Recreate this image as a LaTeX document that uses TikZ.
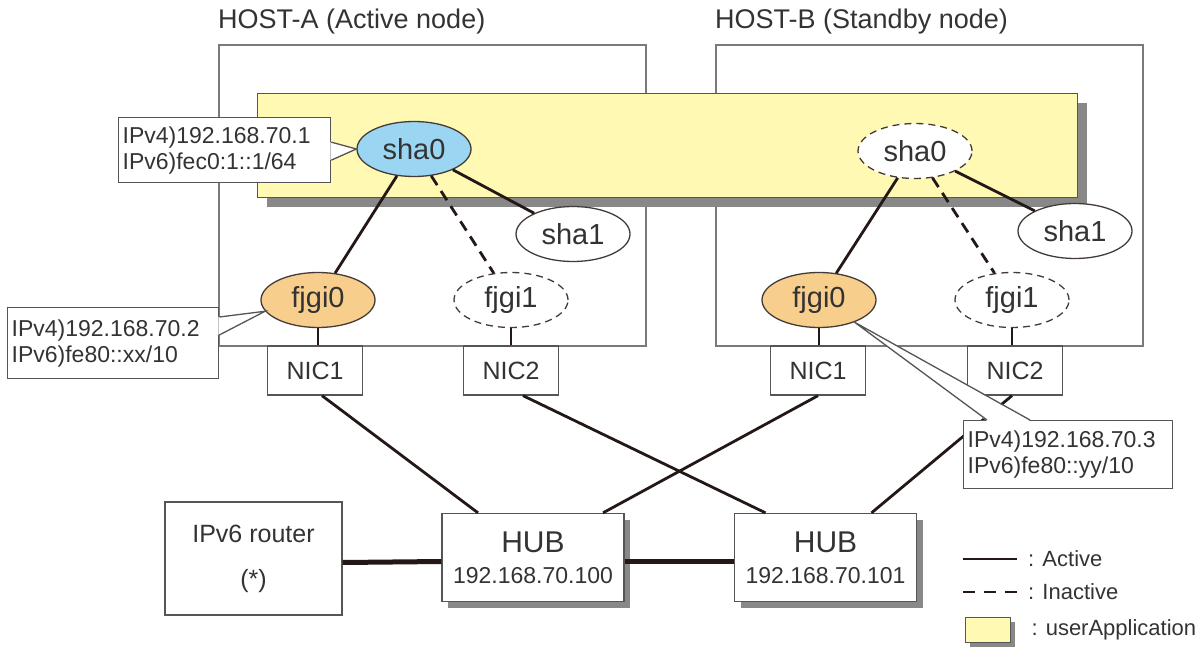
\documentclass[tikz,border=0pt]{standalone}
\usepackage{fontspec}
\setmainfont{Liberation Sans}
\usetikzlibrary{shapes.geometric, shadows}
\definecolor{lineblk}{HTML}{231815}
\definecolor{boxgray}{HTML}{7A7A7A}
\definecolor{edgegray}{HTML}{555555}
\definecolor{shadowgray}{HTML}{888888}
\definecolor{appyellow}{HTML}{FFF9B3}
\definecolor{activeblue}{HTML}{9AD6F2}
\definecolor{ifaceorange}{HTML}{F7CE8C}
\definecolor{textdark}{HTML}{333333}
\tikzset{
  hostbox/.style={draw=boxgray, line width=2pt, anchor=north west, inner sep=0pt,
              minimum width=427pt, minimum height=301pt},
  hostlabel/.style={anchor=base west, inner sep=0pt, text=textdark,
              font=\fontsize{27}{30}\selectfont},
  appbox/.style={draw=edgegray, fill=appyellow, line width=1.3pt, anchor=north west,
              inner sep=0pt, drop shadow={shadow xshift=#1, shadow yshift=-#1,
              fill=shadowgray, opacity=1}},
  ifnode/.style={ellipse, draw=lineblk!85, fill=#1, line width=1.3pt,
              minimum width=114pt, minimum height=55pt, inner sep=0pt,
              text=textdark, font=\fontsize{29}{32}\selectfont},
  ifidle/.style={ifnode=white, dash pattern=on 7pt off 5pt},
  nicbox/.style={draw=edgegray, fill=white, line width=1.3pt, inner sep=0pt,
              minimum width=95pt, minimum height=49pt,
              text=textdark, font=\fontsize{25}{28}\selectfont},
  hubbox/.style={draw=edgegray, fill=white, line width=1.3pt, inner sep=0pt,
              minimum width=182pt, minimum height=88pt, align=center,
              text=textdark, font=\fontsize{23}{31}\selectfont,
              drop shadow={shadow xshift=6pt, shadow yshift=-6pt,
              fill=shadowgray, opacity=1}},
  routerbox/.style={draw=edgegray, fill=white, line width=1.3pt, inner sep=0pt,
              minimum width=177pt, minimum height=113pt, align=center,
              text=textdark, font=\fontsize{25}{45}\selectfont},
  callout/.style={draw=edgegray, fill=white, line width=1.3pt, anchor=north west,
              inner xsep=4pt, inner ysep=0pt, align=left,
              text=textdark, font=\fontsize{23}{26}\selectfont},
  pointer/.style={draw=edgegray, line width=1.3pt, line join=miter},
  actline/.style={draw=lineblk, line width=2.8pt},
  idleline/.style={draw=lineblk, line width=2.8pt, dash pattern=on 11pt off 7pt},
  trunkline/.style={draw=lineblk, line width=5pt},
  legtext/.style={anchor=west, inner sep=0pt, text=textdark,
              font=\fontsize{22}{24}\selectfont},
}
\begin{document}
\begin{tikzpicture}[x=1pt, y=-1pt]
  \useasboundingbox (0,0) rectangle (1201,647);

  \node[hostbox] (hosta) at (218,44) {};
  \node[hostbox] (hostb) at (715,44) {};
  \node[hostlabel] at ([yshift=15pt]hosta.north west) {HOST-A (Active node)};
  \node[hostlabel] at ([yshift=15pt]hostb.north west) {HOST-B (Standby node)};

  \node[appbox=9pt, minimum width=820pt, minimum height=104pt] (app) at (257,93) {};

  \node[ifnode=activeblue] (sha0a)  at (414,149) {sha0};
  \node[ifnode=white]      (sha1a)  at (573,234) {sha1};
  \node[ifnode=ifaceorange] (fjgi0a) at (318,300) {fjgi0};
  \node[ifidle]            (fjgi1a) at (511,300) {fjgi1};
  \node[ifidle]            (sha0b)  at (915,151) {sha0};
  \node[ifnode=white]      (sha1b)  at (1075,231) {sha1};
  \node[ifnode=ifaceorange] (fjgi0b) at (819,300) {fjgi0};
  \node[ifidle]            (fjgi1b) at (1012,300) {fjgi1};

  \node[nicbox] (nic1a) at (315,370.5)  {NIC1};
  \node[nicbox] (nic2a) at (511,370.5)  {NIC2};
  \node[nicbox] (nic1b) at (818,370.5)  {NIC1};
  \node[nicbox] (nic2b) at (1015,370.5) {NIC2};

  \node[routerbox] (router) at (253.5,558.5) {IPv6 router\\(*)};
  \node[hubbox] (hub1) at (533,557.5)   {{\fontsize{30}{31}\selectfont HUB}\\192.168.70.100};
  \node[hubbox] (hub2) at (825.5,557.5) {{\fontsize{30}{31}\selectfont HUB}\\192.168.70.101};

  \draw[actline]  (sha0a) -- (fjgi0a);
  \draw[idleline] (sha0a) -- (fjgi1a);
  \draw[actline]  (sha0a) -- (sha1a);
  \draw[actline]  (sha0b) -- (fjgi0b);
  \draw[idleline] (sha0b) -- (fjgi1b);
  \draw[actline]  (sha0b) -- (sha1b);
  \draw[actline] (fjgi0a.south) -- (fjgi0a.south |- nic1a.north);
  \draw[actline] (fjgi1a.south) -- (fjgi1a.south |- nic2a.north);
  \draw[actline] (fjgi0b.south) -- (fjgi0b.south |- nic1b.north);
  \draw[actline] (fjgi1b.south) -- (fjgi1b.south |- nic2b.north);

  \draw[actline] ([xshift=7pt]nic1a.south)  -- ([xshift=-55pt]hub1.north);
  \draw[actline] ([xshift=12pt]nic2a.south) -- ([xshift=-60pt]hub2.north);
  \draw[actline] (nic1b.south)              -- ([xshift=70pt]hub1.north);
  \draw[actline] ([xshift=-3pt]nic2b.south) -- ([xshift=46pt]hub2.north);
  \draw[trunkline] ([yshift=-4pt]router.east) -- ([yshift=-4pt]hub1.west);
  \draw[trunkline] ([yshift=-4pt]hub1.east) -- ([yshift=-4pt]hub2.west);

  \node[callout, minimum height=65pt, text width=204pt] (ipsha) at (118,117)
    {IPv4)192.168.70.1\\IPv6)fec0:1::1/64};
  \fill[white] ([xshift=-1pt, yshift=8pt]ipsha.east) -- (sha0a.west)
    -- ([xshift=-1pt, yshift=-10pt]ipsha.east) -- cycle;
  \draw[pointer] ([yshift=8pt]ipsha.east) -- (sha0a.west) -- ([yshift=-10pt]ipsha.east);

  \node[callout, minimum height=71pt, text width=203pt] (ipfjgia) at (7,307)
    {IPv4)192.168.70.2\\IPv6)fe80::xx/10};
  \fill[white] ([xshift=-1pt, yshift=-10pt]ipfjgia.north east) -- (fjgi0a.192)
    -- ([xshift=-1pt, yshift=-28pt]ipfjgia.north east) -- cycle;
  \draw[pointer] ([yshift=-10pt]ipfjgia.north east) -- (fjgi0a.192)
    -- ([yshift=-28pt]ipfjgia.north east);

  \node[callout, minimum height=68pt, text width=201pt] (ipfjgib) at (963,420)
    {IPv4)192.168.70.3\\IPv6)fe80::yy/10};
  \fill[white] ([xshift=24pt, yshift=-1pt]ipfjgib.north west) -- (fjgi0b.-32)
    -- ([xshift=67pt, yshift=-1pt]ipfjgib.north west) -- cycle;
  \draw[pointer] ([xshift=24pt]ipfjgib.north west) -- (fjgi0b.-32)
    -- ([xshift=67pt]ipfjgib.north west);

  \coordinate (legact) at (963,559);
  \coordinate (legidle) at (963,592);
  \draw[actline] (legact) -- ++(54,0) coordinate (legactend);
  \draw[idleline, dash pattern=on 12pt off 9pt] (legidle) -- ++(54,0) coordinate (legidleend);
  \node[legtext] at ([xshift=11pt]legactend) {: Active};
  \node[legtext] at ([xshift=11pt]legidleend) {: Inactive};
  \node[appbox=4pt, minimum width=45pt, minimum height=25pt] (legapp) at (965,617) {};
  \node[legtext] at ([xshift=20pt]legapp.east) {: userApplication};
\end{tikzpicture}
\end{document}
